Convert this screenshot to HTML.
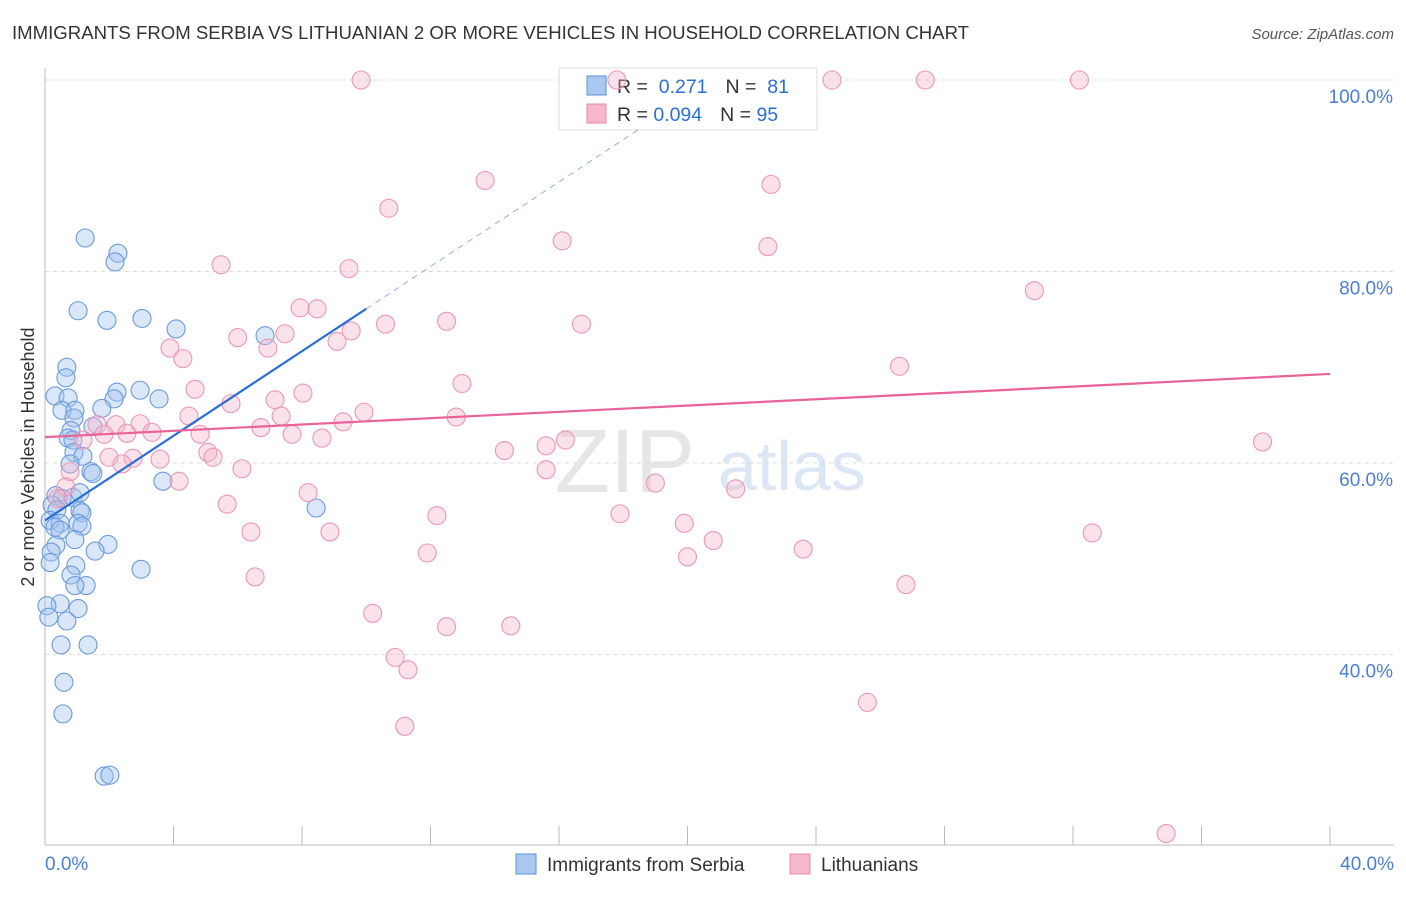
<!DOCTYPE html>
<html><head><meta charset="utf-8"><style>
body{margin:0;background:#fff;font-family:"Liberation Sans",sans-serif}
svg text{font-family:"Liberation Sans",sans-serif}
</style></head><body>
<svg id="chart" width="1406" height="892" xmlns="http://www.w3.org/2000/svg">
<text x="12" y="39" font-size="18.6" fill="#333">IMMIGRANTS FROM SERBIA VS LITHUANIAN 2 OR MORE VEHICLES IN HOUSEHOLD CORRELATION CHART</text>
<text x="1394" y="39" font-size="15" fill="#555" text-anchor="end" font-style="italic">Source: ZipAtlas.com</text>
<text x="555" y="492" font-size="90" fill="#e6e6e6" font-family="Liberation Serif">ZIP</text>
<text x="718" y="490" font-size="70" fill="#dbe7f5">atlas</text>
<g id="grid"></g><g id="axes"></g>
<g>
<rect x="559" y="68" width="258" height="62" fill="#fff" fill-opacity="0.85" stroke="#ddd"/>
<rect x="587" y="76" width="19" height="19" fill="#a8c8f0" stroke="#5a8fd8"/>
<rect x="587" y="104" width="19" height="19" fill="#f5b8cb" stroke="#e889a8"/>
<text x="617" y="93" font-size="19.5" fill="#333">R = <tspan fill="#2a6fd6">&#160;0.271</tspan><tspan dx="18">N = </tspan><tspan fill="#2a6fd6">&#160;81</tspan></text>
<text x="617" y="121" font-size="19.5" fill="#333">R = <tspan fill="#2a6fd6">0.094</tspan><tspan dx="18">N = </tspan><tspan fill="#2a6fd6">95</tspan></text>
</g>
<g id="blue-pts"></g><g id="pink-pts"></g><g id="lines"></g>
<text transform="translate(34,457) rotate(-90)" font-size="18" fill="#333" text-anchor="middle">2 or more Vehicles in Household</text>
<g>
<rect x="516" y="854" width="20" height="20" fill="#a8c8f0" stroke="#5a8fd8"/>
<text x="547" y="871" font-size="19" fill="#333">Immigrants from Serbia</text>
<rect x="790" y="854" width="20" height="20" fill="#f5b8cb" stroke="#e889a8"/>
<text x="821" y="871" font-size="19" fill="#333">Lithuanians</text>
</g>
</svg>
<script>
const yTicks=[100,80,60,40];
const yTickLabels=["100.0%","80.0%","60.0%","40.0%"];
const xTickLabels=["0.0%","40.0%"];
const serbiaX=[1.25,2.27,2.18,1.03,1.93,3.02,4.08,6.85,0.68,0.65,0.31,0.72,2.24,2.96,3.55,2.15,0.53,0.93,1.77,0.9,0.81,1.49,0.72,0.87,0.9,1.18,0.78,1.43,1.49,3.67,0.34,0.53,0.87,1.09,0.22,0.37,1.09,1.15,8.44,0.16,0.47,0.31,1.03,1.15,0.47,0.93,0.34,1.96,0.19,1.56,0.16,0.96,2.99,0.81,1.28,0.93,0.47,0.06,1.03,0.12,0.68,0.5,1.34,0.59,0.56,1.84,2.02];
const serbiaY=[83.5,81.9,81.0,75.9,74.9,75.1,74.0,73.3,70.0,68.9,67.0,66.8,67.4,67.6,66.7,66.7,65.5,65.5,65.7,64.7,63.4,63.8,62.6,62.4,61.1,60.7,59.9,59.1,58.9,58.1,56.6,56.3,56.4,56.9,55.6,55.1,55.0,54.8,55.3,54.0,53.7,53.3,53.7,53.4,53.0,52.0,51.4,51.5,50.7,50.8,49.6,49.3,48.9,48.3,47.2,47.2,45.3,45.1,44.8,43.9,43.5,41.0,41.0,37.1,33.8,27.3,27.4];
const lithX=[9.84,17.8,24.5,27.4,32.2,13.7,22.6,10.7,16.1,22.5,5.48,9.46,30.8,7.94,8.47,12.5,10.6,16.7,9.53,7.47,6.0,9.09,6.94,3.89,4.29,26.6,12.98,4.67,8.03,7.16,5.79,9.93,4.48,7.35,12.8,9.28,1.62,2.21,2.96,6.72,3.33,2.55,4.83,7.69,8.62,1.84,1.18,37.9,15.6,16.2,14.3,5.07,5.23,1.99,3.58,2.74,2.4,6.13,15.6,0.78,4.17,19.0,0.65,21.5,8.19,0.4,5.67,17.9,12.2,19.9,6.41,8.87,32.6,20.8,23.6,11.9,20.0,6.54,26.8,10.2,12.5,14.5,10.9,11.3,25.6,11.2,34.9];
const lithY=[100,100,100,100,100,89.5,89.1,86.6,83.2,82.6,80.7,80.3,78.0,76.2,76.1,74.8,74.5,74.5,73.8,73.5,73.1,72.7,72.0,72.0,70.9,70.1,68.3,67.7,67.3,66.6,66.2,65.3,64.9,64.9,64.8,64.3,64.0,64.0,64.1,63.7,63.2,63.1,63.0,63.0,62.6,63.0,62.4,62.2,61.8,62.4,61.3,61.1,60.6,60.6,60.4,60.5,59.9,59.4,59.3,59.1,58.1,57.9,57.5,57.3,56.9,56.3,55.7,54.7,54.5,53.7,52.8,52.8,52.7,51.9,51.0,50.6,50.2,48.1,47.3,44.3,42.9,43.0,39.7,38.4,35.0,32.5,21.3];
const serbiaFit=[54.0,2.21]; const lithFit=[62.7,0.165];
const NS="http://www.w3.org/2000/svg";
const X=v=>45+v/40*1285, Y=v=>80+(100-v)*9.575;
function mk(t,a,p){const e=document.createElementNS(NS,t);for(const k in a)e.setAttribute(k,a[k]);p.appendChild(e);return e;}
const grid=document.getElementById('grid'),axes=document.getElementById('axes');
yTicks.forEach((t,i)=>{
 const l=mk('line',{x1:45,x2:1394,y1:Y(t),y2:Y(t),stroke:'#ddd','stroke-dasharray':'4,4'},grid);
 
 
 const tx=mk('text',{x:1393,y:Y(t)+23,'font-size':19,fill:'#4a7fd4','text-anchor':'end'},axes);tx.textContent=yTickLabels[i];
 
 
});
mk('line',{x1:45,x2:45,y1:68,y2:845,stroke:'#bbb'},axes);
mk('line',{x1:45,x2:1394,y1:845,y2:845,stroke:'#bbb'},axes);
for(let i=0;i<=10;i++){const t=mk('line',{x1:X(i*4),x2:X(i*4),y1:826,y2:845,stroke:'#bbb'},axes);
 
 }
[[0,'start',45],[40,'end',1394]].forEach((d,i)=>{const t=mk('text',{x:d[2],y:870,'font-size':19,fill:'#4a7fd4','text-anchor':d[1]},axes);t.textContent=xTickLabels[i];
 
 });
const bp=document.getElementById('blue-pts'),pp=document.getElementById('pink-pts');
serbiaX.forEach((x,i)=>{const c=mk('circle',{cx:X(x),cy:Y(serbiaY[i]),r:9,fill:'rgba(160,196,240,0.4)',stroke:'#6a9ade','stroke-width':1.1},bp);
 
 });
lithX.forEach((x,i)=>{const c=mk('circle',{cx:X(x),cy:Y(lithY[i]),r:9,fill:'rgba(245,180,200,0.38)',stroke:'#ec97b3','stroke-width':1.1},pp);
 
 });
const lg=document.getElementById('lines');
const f=(fit,x)=>fit[0]+fit[1]*x;
let l1=mk('line',{x1:X(0),y1:Y(f(serbiaFit,0)),x2:X(10),y2:Y(f(serbiaFit,10)),stroke:'#2a6fd6','stroke-width':2.2},lg);


let l2=mk('line',{x1:X(10),y1:Y(f(serbiaFit,10)),x2:X(18.5),y2:Y(f(serbiaFit,18.5)),stroke:'#8fb0e0','stroke-width':1,'stroke-dasharray':'6,5'},lg);


let l3=mk('line',{x1:X(0),y1:Y(f(lithFit,0)),x2:X(40),y2:Y(f(lithFit,40)),stroke:'#e8639a','stroke-width':2.2},lg);


</script>
</body></html>
